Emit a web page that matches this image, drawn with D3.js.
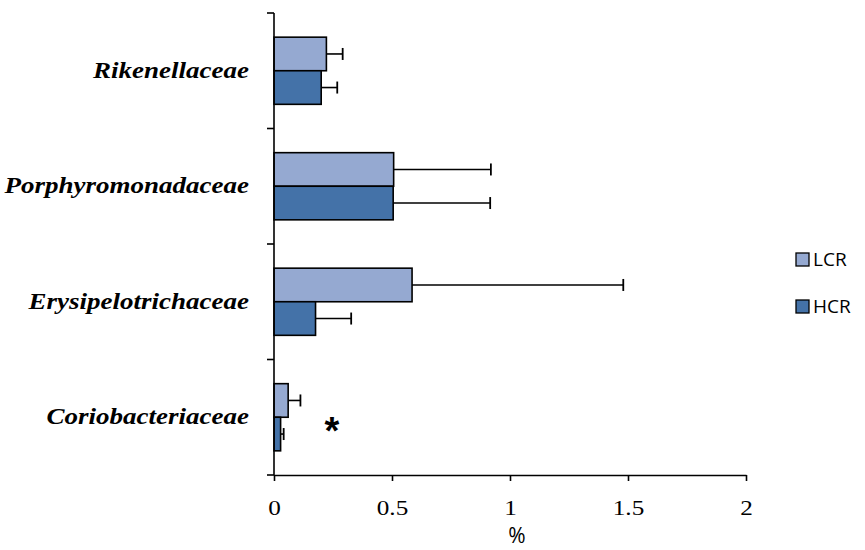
<!DOCTYPE html>
<html>
<head>
<meta charset="utf-8">
<script src="https://cdn.jsdelivr.net/npm/d3@7"></script>
<style>
  body { margin: 0; background: #fff; }
  .tick text { font-family: "Liberation Serif", "Times New Roman", serif; }
</style>
</head>
<body>
<div id="chart"></div>
<script>
// data
const families = ["Rikenellaceae", "Porphyromonadaceae", "Erysipelotrichaceae", "Coriobacteriaceae"];
const groups = ["LCR", "HCR"];
const lcrMean = [0.222, 0.507, 0.585, 0.060];
const lcrErr = [0.069, 0.412, 0.895, 0.052];
const hcrMean = [0.200, 0.505, 0.176, 0.028];
const hcrErr = [0.068, 0.411, 0.151, 0.013];
const xTicks = [0, 0.5, 1, 1.5, 2];

const colors = { LCR: "#95A9D1", HCR: "#4472A8" };
const stretch = 1.2; // the original text is a bit wider than it is tall

const width = 865;
const height = 550;
const margin = { top: 13, right: 119, bottom: 75, left: 274 };

const svg = d3.select("#chart")
  .append("svg")
  .attr("width", width)
  .attr("height", height);

const rows = [];
families.forEach((f, i) => {
  rows.push({ family: f, group: "LCR", mean: lcrMean[i], err: lcrErr[i] });
  rows.push({ family: f, group: "HCR", mean: hcrMean[i], err: hcrErr[i] });
});

// scales
const xScale = d3.scaleLinear()
  .domain([0, 2])
  .range([margin.left, width - margin.right]);

const yScale = d3.scaleBand()
  .domain(families)
  .range([margin.top, height - margin.bottom]);

const yInner = d3.scaleBand()
  .domain(groups)
  .range([0, yScale.bandwidth()])
  .paddingOuter(0.72)
  .paddingInner(0);

// bars
const barG = svg.selectAll("g.bar")
  .data(rows)
  .join("g")
  .attr("class", "bar")
  .attr("transform", d => `translate(0,${yScale(d.family) + yInner(d.group)})`);

barG.append("rect")
  .attr("x", xScale(0))
  .attr("y", 0)
  .attr("width", d => xScale(d.mean) - xScale(0))
  .attr("height", yInner.bandwidth())
  .attr("fill", d => colors[d.group])
  .attr("stroke", "#000")
  .attr("stroke-width", 1.6);

// error bars (upper side only)
barG.append("line")
  .attr("x1", d => xScale(d.mean))
  .attr("x2", d => xScale(d.mean + d.err))
  .attr("y1", yInner.bandwidth() / 2)
  .attr("y2", yInner.bandwidth() / 2)
  .attr("stroke", "#000")
  .attr("stroke-width", 1.6);

barG.append("line")
  .attr("x1", d => xScale(d.mean + d.err))
  .attr("x2", d => xScale(d.mean + d.err))
  .attr("y1", yInner.bandwidth() / 2 - 6)
  .attr("y2", yInner.bandwidth() / 2 + 6)
  .attr("stroke", "#000")
  .attr("stroke-width", 1.8);

// x axis
const xAxis = d3.axisBottom(xScale)
  .tickValues(xTicks)
  .tickFormat(d3.format("~g"))
  .tickSize(6)
  .tickSizeOuter(0);

const gx = svg.append("g")
  .attr("transform", `translate(0,${height - margin.bottom})`)
  .call(xAxis)
  .attr("font-family", "Liberation Serif")
  .attr("font-size", 21);

gx.select(".domain").attr("stroke", "#000").attr("stroke-width", 1.6);
gx.selectAll(".tick line").attr("stroke", "#000").attr("stroke-width", 1.6);
gx.selectAll(".tick text")
  .attr("dy", null)
  .attr("y", 40)
  .attr("transform", `scale(${stretch},1)`)
  .attr("fill", "#000");

// y axis with ticks at the band edges
const yEdges = families.map(f => yScale(f)).concat([height - margin.bottom]);
const gy = svg.append("g");
gy.append("line")
  .attr("x1", margin.left).attr("x2", margin.left)
  .attr("y1", margin.top).attr("y2", height - margin.bottom)
  .attr("stroke", "#000").attr("stroke-width", 1.6);
gy.selectAll("line.tk")
  .data(yEdges)
  .join("line")
  .attr("class", "tk")
  .attr("x1", margin.left - 7).attr("x2", margin.left)
  .attr("y1", d => d).attr("y2", d => d)
  .attr("stroke", "#000").attr("stroke-width", 1.6);

gy.selectAll("g.lab")
  .data(families)
  .join("g")
  .attr("class", "lab")
  .attr("transform", d => `translate(249,${yScale(d) + yScale.bandwidth() / 2 + 7}) scale(${stretch},1)`)
  .append("text")
  .attr("text-anchor", "end")
  .attr("font-family", "'Liberation Serif', 'Times New Roman', serif")
  .attr("font-size", 22.5)
  .attr("font-weight", "bold")
  .attr("font-style", "italic")
  .text(d => d);

// axis label
svg.append("text")
  .attr("x", 517)
  .attr("y", 543)
  .attr("text-anchor", "middle")
  .attr("font-family", "'Open Sans', 'Liberation Sans', sans-serif")
  .attr("font-size", 21)
  .text("%");

// significance mark
svg.append("text")
  .attr("x", xScale(0.245))
  .attr("y", yScale("Coriobacteriaceae") + yScale.bandwidth() / 2 + 27)
  .attr("text-anchor", "middle")
  .attr("font-family", "'Liberation Sans', Arial, sans-serif")
  .attr("font-size", 38)
  .attr("font-weight", "bold")
  .text("*");

// legend
const legend = svg.selectAll("g.legend")
  .data(groups)
  .join("g")
  .attr("class", "legend")
  .attr("transform", (d, i) => `translate(796,${253 + i * 47})`);

legend.append("rect")
  .attr("x", 0).attr("y", 0)
  .attr("width", 13).attr("height", 13)
  .attr("fill", d => colors[d])
  .attr("stroke", "#000")
  .attr("stroke-width", 1.3);

legend.append("text")
  .attr("x", 17)
  .attr("y", 13)
  .attr("font-family", "'Open Sans', 'Liberation Sans', sans-serif")
  .attr("font-size", 19)
  .text(d => d);
</script>
</body>
</html>
